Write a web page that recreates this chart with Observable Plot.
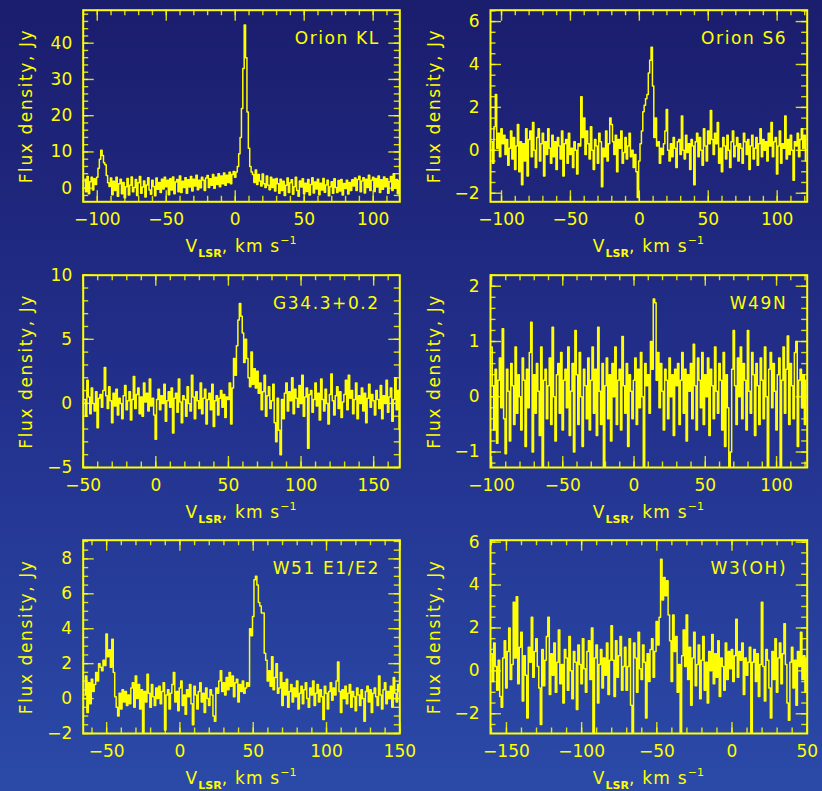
<!DOCTYPE html>
<html><head><meta charset="utf-8">
<script src="https://cdn.jsdelivr.net/npm/d3@7"></script>
<script src="https://cdn.jsdelivr.net/npm/@observablehq/plot@0.6"></script>
<style>
html,body{margin:0;padding:0;}
body{width:822px;height:791px;overflow:hidden;background:linear-gradient(180deg,#1b1d6d 0%,#22308c 50%,#2b4aa8 100%);}
#wrap{position:relative;width:822px;height:791px;}
.panel{position:absolute;overflow:visible;}
</style></head><body><div id="wrap"></div>
<script>
// ---------------- data ----------------
const sourceNames = ["Orion KL", "Orion S6", "G34.3+0.2", "W49N", "W51 E1/E2", "W3(OH)"];
const yLabel = "Flux density, Jy";

// first channel velocity and channel width (km/s)
const chanStart = [-109, -107, -49, -100, -65, -160];
const chanWidth = [1, 1, 1, 1, 1, 1];

const fluxOrionKL = [2.5,-1.0,3.2,-1.5,1.8,3.0,-0.5,2.6,1.0,
 3.0,5.5,8.0,10.5,9.0,7.0,6.5,3.5,1.5,
 0.5,2.8,-1.8,1.9,-0.6,3.0,-2.2,1.2,2.5,-1.5,1.6,-2.6,0.4,2.7,-1.9,0.8,3.1,-1.0,0.2,2.4,-2.0,1.5,3.2,-1.4,0.3,2.0,-2.4,0.9,2.9,-0.5,-1.7,2.2,0.5,-2.1,2.8,-0.3,1.6,-1.2,2.5,-0.2,3.0,
 0.4,2.2,-1.8,2.6,-0.5,3.1,-1.5,1.7,2.4,-1.0,3.4,-1.2,1.9,0.2,2.9,-1.4,2.3,0.3,3.2,-0.8,2.5,0.6,3.6,-0.4,2.2,0.1,3.0,2.2,-0.6,2.8,3.5,0.2,2.6,0.8,3.8,0.0,3.0,1.0,4.0,0.4,3.4,1.2,4.2,0.8,3.6,1.6,4.4,1.2,3.8,4.6,
 3.0,4.5,6.0,9.5,14.0,22.0,33.0,45.0,36.0,21.0,11.0,6.0,4.5,
 3.8,1.6,5.0,1.0,3.8,2.0,0.6,3.9,1.2,0.2,3.4,0.8,-0.4,3.0,0.2,2.5,-0.8,2.7,
 1.2,-1.4,2.5,-0.6,1.9,-2.0,0.8,2.8,-1.2,1.5,2.3,-1.7,0.4,3.0,-0.6,-2.2,2.0,0.3,2.6,-1.5,1.4,-0.9,2.4,-1.9,1.0,2.9,-1.3,1.7,-0.2,2.5,-1.8,1.4,-0.5,2.7,-1.1,0.9,2.2,-2.1,0.4,1.8,-1.4,2.6,0.2,-1.2,2.1,-0.8,2.4,-1.9,1.3,-0.1,2.2,-1.6,1.6,-0.6,2.3,
 0.6,2.8,-0.6,2.4,3.3,-1.0,2.0,2.9,-1.3,2.5,0.2,3.6,-0.6,2.2,3.0,-0.9,2.7,0.3,3.4,-1.2,2.3,-0.3,3.1,0.4,2.6,-1.4,1.8,3.2,-0.6,4.0,0.2,2.4,-1.5,2.1,0.4];

const fluxOrionS6 = [0.4,-0.6,1.1,2.6,0.1,0.8,-0.3,
 1.0,0.3,0.7,-0.2,0.5,-0.7,0.1,0.9,-0.4,0.6,-0.9,0.2,1.2,-1.0,0.4,-1.6,0.3,-0.5,1.0,-1.2,
 0.5,0.9,-0.3,1.3,0.0,-0.8,0.6,1.0,-0.5,0.3,0.8,-1.2,0.4,-0.2,1.0,0.1,-0.6,0.7,-0.3,0.4,
 -0.9,0.6,0.2,-0.4,0.9,-1.2,0.3,0.5,-0.6,0.8,-0.2,0.1,-0.8,0.4,0.0,-1.1,0.3,0.2,2.5,0.6,
 1.5,-0.2,0.9,0.3,-0.4,1.1,0.0,-0.9,0.5,0.2,-0.6,0.8,0.4,-1.7,0.1,-0.3,0.9,-0.5,0.3,1.5,
 1.2,0.4,-0.2,0.7,-1.0,0.5,0.1,0.9,-0.6,-0.1,0.6,-0.4,0.2,0.8,-0.3,0.0,-0.8,-0.2,-1.0,-2.2,
 -0.5,0.3,0.9,1.8,2.1,2.4,2.6,3.6,4.2,4.8,3.0,0.6,1.5,
 0.2,0.4,-0.6,0.1,-0.2,0.3,0.9,1.9,0.0,-0.5,0.3,-0.3,0.6,0.1,-0.8,0.4,0.5,-0.2,1.6,0.0,
 -0.4,0.7,-0.1,0.3,-0.9,0.5,0.2,-1.6,0.4,0.8,-0.3,0.6,0.0,-0.7,1.0,0.2,-0.5,0.9,0.3,1.85,
 0.5,-0.2,0.8,0.3,1.3,-0.6,0.1,-1.0,0.6,0.2,-0.4,0.7,0.0,-0.8,0.4,0.9,-0.3,0.2,0.6,-0.5,
 0.3,0.1,-0.6,0.8,0.4,-0.2,0.5,-0.9,0.2,0.7,-0.4,0.1,0.6,-0.7,0.3,1.0,-0.3,0.5,0.0,0.4,
 -0.5,0.8,0.2,1.3,-0.3,0.4,0.6,-1.1,0.2,0.9,-0.6,0.3,0.1,1.6,-0.4,0.5,-0.2,0.7,0.0,-1.4,
 0.4,0.2,0.8,-0.3,0.5,1.0,0.1,0.7,-0.5];

const fluxG34 = [0.3,-1.0,1.8,0.5,-0.8,1.2,0.0,-0.6,0.9,-1.9,0.4,0.7,-0.3,1.0,2.8,0.6,-0.4,1.3,0.2,-1.5,
 0.8,-0.2,1.1,-0.9,0.4,0.0,-1.2,0.6,1.4,-0.5,0.2,0.9,-1.3,0.3,2.1,-0.4,0.7,1.2,-0.8,0.5,
 -1.0,1.6,0.1,0.8,-0.6,1.9,-0.2,0.4,-0.9,-2.8,0.3,1.1,-0.5,0.6,0.0,1.5,-1.4,0.2,0.9,-0.3,
 1.2,-2.3,0.4,0.8,-0.7,1.9,0.1,-1.5,0.6,0.3,-1.0,1.3,0.0,-0.6,2.2,0.5,-1.2,0.9,0.2,-0.4,
 1.6,-0.8,0.4,1.1,-1.6,0.3,0.8,-0.5,1.5,-1.8,0.2,0.6,-0.9,0.4,1.0,-0.3,0.7,-1.1,0.5,0.3,
 1.6,-1.6,1.2,3.5,2.2,4.5,6.5,7.8,6.8,5.5,3.2,5.0,3.5,2.0,1.3,4.0,1.5,2.7,1.2,2.5,
 0.8,1.6,-0.5,0.9,2.2,-1.0,0.6,1.3,-0.4,0.2,1.5,-1.5,-3.0,0.4,-2.1,-4.0,0.3,-1.2,0.8,1.6,
 -0.6,0.9,0.2,2.0,-0.8,1.1,0.4,-0.3,1.4,0.0,2.2,-1.0,0.5,1.2,-3.5,0.7,1.0,-0.7,0.3,1.6,
 -0.2,0.8,-1.3,1.9,0.3,-0.6,1.1,0.0,-1.6,0.7,2.3,0.2,-0.9,0.6,1.3,-0.4,0.9,-1.1,0.1,0.7,
 1.8,-0.5,2.2,0.4,1.0,-0.8,0.3,1.6,-1.2,0.6,0.0,1.2,-0.6,0.8,-1.5,0.4,1.5,-0.3,0.7,0.2,
 -0.9,1.0,0.3,-0.4,1.4,-1.2,0.6,0.0,1.8,-0.7,0.5,1.2,-1.4,0.3,2.0,-0.5,1.0,-2.0];

const fluxW49N = [0.9,0.2,-0.6,0.5,-0.84,0.3,0.7,-0.2,1.23,-0.4,
 -1.03,0.5,0.1,-0.8,0.6,0.2,-0.5,0.9,-0.3,0.4,
 0.0,-0.6,0.7,0.3,-0.9,0.5,-0.2,0.8,1.35,-1.0,
 0.4,-0.3,0.6,0.1,-0.7,0.9,-1.6,0.3,0.5,-0.4,
 0.2,0.7,-0.5,1.26,0.0,-0.8,0.4,0.6,-0.3,0.8,
 -0.6,0.3,0.5,-0.2,0.9,-0.7,0.1,0.6,-1.0,1.2,
 0.4,-0.5,0.8,0.0,-0.9,0.5,0.2,-0.4,0.7,-0.6,
 0.3,0.9,-0.3,0.5,-0.7,1.26,0.1,-0.5,0.6,-1.6,
 0.2,0.7,-0.4,0.4,-0.8,0.6,0.0,0.9,-0.5,0.3,
 0.5,-0.6,1.09,0.2,-0.3,0.6,-0.9,0.4,0.1,-0.4,
 0.3,0.7,-0.5,0.5,-0.2,0.8,0.0,-1.6,0.6,0.2,
 0.4,-0.3,1.0,0.5,1.77,1.7,0.3,0.8,-0.2,0.6,
 0.1,-0.6,0.5,0.3,-0.4,0.7,0.0,0.4,-0.7,0.5,
 0.2,0.6,-0.5,0.3,0.8,-0.3,0.5,-0.8,0.4,0.1,
 0.6,-0.4,0.95,0.2,-0.6,0.7,0.3,-0.2,0.8,-0.5,
 0.4,0.0,0.7,-0.7,0.5,0.2,-0.4,0.9,0.1,-0.3,
 0.6,0.3,-0.6,0.8,-0.9,0.4,-0.2,-1.6,-1.0,0.5,
 1.2,0.2,-0.5,0.7,0.0,0.9,-0.4,0.6,0.3,-0.6,
 1.2,0.1,-0.3,0.8,0.4,-0.7,0.6,0.2,-0.5,0.7,
 0.3,-0.4,0.9,0.0,-1.6,0.5,0.8,-0.2,0.6,0.1,
 -0.6,0.4,0.7,-1.6,0.3,0.9,-0.3,0.5,1.1,-0.5,
 0.6,0.2,-0.4,0.8,1.0,-0.9,0.3,0.5,-0.2,0.4,
 -0.5,0.3];

const fluxW51 = [0.2,1.3,-0.8,0.9,-0.3,1.1,0.4,0.8,1.5,1.0,
 2.0,1.8,1.6,2.2,1.9,3.7,2.4,2.8,1.8,3.4,
 1.5,0.1,-0.5,-1.0,0.3,-0.6,0.5,-0.2,0.4,-0.4,
 0.2,-0.3,0.6,0.9,-0.5,1.3,0.0,0.8,-0.6,0.5,
 -2.0,0.4,-0.2,1.4,0.3,-0.5,0.8,0.1,-0.4,0.6,
 0.0,0.7,-0.3,0.4,0.9,-1.8,0.2,0.5,-0.6,0.3,
 0.8,1.5,-0.2,0.4,-0.7,0.6,1.0,-0.4,0.2,-0.9,
 0.5,0.1,0.8,-0.3,-1.5,0.7,0.2,-0.6,0.4,0.9,
 -0.2,0.3,-0.8,0.6,0.0,-0.4,0.5,0.2,-1.0,-1.3,
 0.6,0.3,1.0,1.6,0.4,0.9,0.2,1.2,0.5,1.5,
 0.7,1.3,0.1,0.9,1.1,-0.2,0.8,0.4,1.0,0.3,
 0.6,0.9,0.7,4.0,3.6,4.7,6.8,7.0,6.5,5.5,
 5.3,4.9,4.9,2.6,2.2,1.0,1.6,0.7,2.4,0.5,
 1.2,2.0,0.3,0.6,1.5,-0.4,0.9,0.2,1.1,-0.5,
 0.4,0.8,-0.2,0.6,0.1,1.0,-0.6,0.3,0.7,-0.3,
 0.5,0.9,0.0,-0.5,0.6,0.2,1.0,-0.4,0.3,0.8,
 -0.2,0.5,0.1,-1.2,0.7,0.3,-0.6,0.4,0.9,-0.1,
 0.6,0.2,1.0,2.1,0.4,-0.8,0.5,0.0,0.7,-0.3,
 0.3,0.8,-0.5,0.4,0.1,-0.7,0.6,0.2,-0.4,0.5,
 0.0,-1.3,0.4,0.7,-0.2,0.5,-0.8,0.3,0.6,0.1,
 -0.4,1.3,0.2,-0.6,0.5,0.9,-0.3,0.4,0.0,0.7,
 -0.5,1.2,0.3,-0.2,0.8,0.4];

const fluxW3OH = [0.8,-0.5,1.3,0.2,-0.9,0.5,-1.2,-1.7,0.6,1.4,
 -0.8,0.9,2.0,-0.4,0.3,3.2,0.6,3.45,-0.6,1.1,
 1.8,-1.4,0.7,-0.2,-2.2,1.1,0.4,2.5,-0.3,0.9,
 1.5,0.2,-0.8,-2.5,1.0,-0.7,0.5,1.6,2.5,-1.1,
 0.8,-0.2,1.3,-1.0,0.4,1.9,-0.6,0.3,-1.5,1.0,
 0.6,-0.9,1.6,0.0,-1.3,0.9,0.4,-1.8,1.2,0.3,
 -0.6,1.5,0.1,-1.0,0.9,1.4,-0.4,2.0,-3.2,0.6,
 1.2,-1.5,0.3,1.0,-0.8,0.6,-0.2,1.3,-1.1,0.5,
 2.1,0.5,-1.2,1.4,-0.3,0.7,1.6,-0.9,0.2,1.1,
 -0.9,0.2,1.5,-1.6,-3.2,1.3,0.6,-1.0,1.8,0.1,
 -0.4,1.2,0.4,-2.2,0.8,-0.5,1.0,1.5,-0.3,0.9,
 2.3,1.2,2.5,5.2,3.3,4.35,3.5,4.2,2.6,1.4,
 -0.5,2.6,0.9,1.6,-1.0,0.3,-3.2,0.7,1.9,0.2,
 2.6,-0.4,1.1,-1.6,0.6,1.8,-0.7,0.3,1.2,-1.3,
 0.5,1.6,-0.9,0.4,-1.5,0.9,0.0,1.7,-0.6,0.8,
 -0.3,1.4,-1.2,0.6,0.2,-0.9,1.3,-0.4,0.9,0.1,
 1.0,-0.5,0.7,2.4,-0.3,0.9,0.5,1.3,-1.1,0.6,
 -0.2,0.4,1.1,-3.2,0.4,1.0,-0.5,0.8,-1.2,0.3,
 3.2,0.2,-1.4,1.0,0.5,-0.8,-2.2,0.9,-0.4,1.5,
 -1.0,0.6,1.3,-0.6,0.8,2.2,0.3,-1.5,-2.3,0.4,
 1.1,-0.8,0.5,-1.6,0.9,0.2,1.8,-0.4,0.7,-1.0,
 0.6];

const fluxes = [fluxOrionKL, fluxOrionS6, fluxG34, fluxW49N, fluxW51, fluxW3OH];

// axes
const xDomains = [[-110.2, 119.3], [-108, 121.8], [-50, 168], [-100.7, 121.5], [-66, 150], [-160.6, 50]];
const yDomains = [[-3.75, 49.1], [-2.4, 6.53], [-5, 10], [-1.28, 2.2], [-2, 9.07], [-2.92, 6.09]];
const xMajorTicks = [[-100,-50,0,50,100], [-100,-50,0,50,100], [-50,0,50,100,150], [-100,-50,0,50,100], [-50,0,50,100,150], [-150,-100,-50,0,50]];
const yMajorTicks = [[0,10,20,30,40], [-2,0,2,4,6], [-5,0,5,10], [-1,0,1,2], [-2,0,2,4,6,8], [-2,0,2,4,6]];
const xMinorStep = [10, 10, 10, 10, 10, 10];
const yMinorStep = [2, 0.5, 1, 0.2, 0.5, 0.5];

// ---------------- layout ----------------
const Y = "#ffff00";
const FONT = "DejaVu Sans, sans-serif";
const colLeft = [0, 411], colML = [82.7, 79], colMR = [11.7, 15.3];
const rowTop = [0, 264, 528], rowH = [264, 264, 263], rowMT = [9.7, 10.7, 11.7], rowMB = [62.7, 61, 58];
const fmt = d3.format("");

function ticksIn(lo, hi, step) {
  const out = [];
  for (let k = Math.ceil(lo / step - 1e-9); k * step <= hi + 1e-9; k++) out.push(+(k * step).toFixed(6));
  return out;
}

const wrap = document.getElementById("wrap");
for (let i = 0; i < 6; i++) {
  const col = i % 2, row = Math.floor(i / 2);
  const W = 411, H = rowH[row];
  const ml = colML[col], mr = colMR[col], mt = rowMT[row], mb = rowMB[row];
  const fw = W - ml - mr, fh = H - mt - mb;
  const data = fluxes[i].map((f, k) => ({v: chanStart[i] + k * chanWidth[i], f}));
  const [x0, x1] = xDomains[i], [y0, y1] = yDomains[i];
  const xmin = ticksIn(x0, x1, xMinorStep[i]);
  const ymin = ticksIn(y0, y1, yMinorStep[i]);
  const xmaj = xMajorTicks[i].filter(d => d >= x0 - 1e-9 && d <= x1 + 1e-9);
  const ymaj = yMajorTicks[i].filter(d => d >= y0 - 1e-9 && d <= y1 + 1e-9);
  const tk = {stroke: Y, strokeWidth: 1.4, strokeOpacity: 0.85};
  const minor = 5.5, major = 11;
  const plot = Plot.plot({
    width: W, height: H,
    marginLeft: ml, marginRight: mr, marginTop: mt, marginBottom: mb,
    x: {domain: xDomains[i], axis: null},
    y: {domain: yDomains[i], axis: null},
    style: {background: "transparent", color: Y, fontFamily: FONT, overflow: "visible"},
    marks: [
      Plot.line(data, {x: "v", y: "f", curve: "step", stroke: Y, strokeWidth: 1.5, clip: true}),
      Plot.tickX(xmin, {x: d => d, ...tk, insetTop: fh - minor}),
      Plot.tickX(xmin, {x: d => d, ...tk, insetBottom: fh - minor}),
      Plot.tickX(xmaj, {x: d => d, ...tk, insetTop: fh - major}),
      Plot.tickX(xmaj, {x: d => d, ...tk, insetBottom: fh - major}),
      Plot.tickY(ymin, {y: d => d, ...tk, insetRight: fw - minor}),
      Plot.tickY(ymin, {y: d => d, ...tk, insetLeft: fw - minor}),
      Plot.tickY(ymaj, {y: d => d, ...tk, insetRight: fw - major}),
      Plot.tickY(ymaj, {y: d => d, ...tk, insetLeft: fw - major}),
      Plot.frame({stroke: Y, strokeWidth: 2}),
      Plot.axisX({ticks: xmaj, anchor: "bottom", tickSize: 0, tickPadding: 11, fontSize: 17, label: null, tickFormat: fmt}),
      Plot.axisY({ticks: ymaj, anchor: "left", tickSize: 0, tickPadding: 11, fontSize: 17, label: null, tickFormat: fmt}),
      Plot.text([sourceNames[i]], {frameAnchor: "top-right", dx: -20, dy: 34, lineAnchor: "bottom", textAnchor: "end", fontSize: 17, fill: Y}),
      Plot.text([yLabel], {frameAnchor: "left", rotate: -90, dx: -51, lineAnchor: "bottom", textAnchor: "middle", fontSize: 17, fill: Y})
    ]
  });
  plot.classList.add("panel");
  plot.style.left = colLeft[col] + "px";
  plot.style.top = rowTop[row] + "px";
  const svg = d3.select(plot);
  svg.selectAll("text").filter(function(){ return this.textContent === sourceNames[i] || this.textContent === yLabel; })
    .attr("letter-spacing", "1.6px");
  const t = svg.append("text")
    .attr("x", ml + fw / 2).attr("y", mt + fh + 51)
    .attr("text-anchor", "middle").attr("fill", Y)
    .attr("font-family", FONT).attr("font-size", 17).attr("letter-spacing", "1.2px");
  t.append("tspan").text("V");
  t.append("tspan").attr("font-size", 11).attr("font-weight", "bold").attr("dy", 5).attr("letter-spacing", "0px").text("LSR");
  t.append("tspan").attr("dy", -5).text(", km s");
  t.append("tspan").attr("font-size", 11).attr("dy", -8).attr("letter-spacing", "0px").text("−1");
  wrap.appendChild(plot);
}
</script>
</body></html>
